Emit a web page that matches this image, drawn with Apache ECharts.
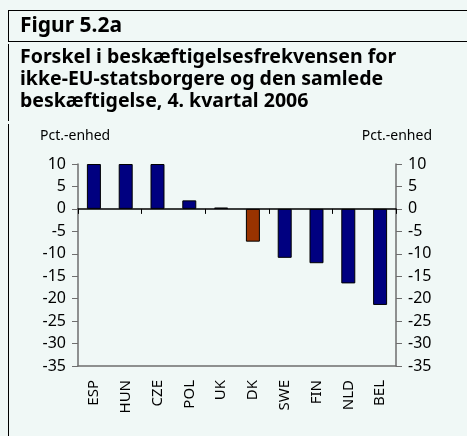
<!DOCTYPE html>
<html>
<head>
<meta charset="utf-8">
<script src="https://cdn.jsdelivr.net/npm/echarts@6/dist/echarts.min.js"></script>
<style>
  html, body { margin: 0; padding: 0; background: #f0f8f6; }
  #chart { width: 467px; height: 436px; }
</style>
</head>
<body>
<div id="chart"></div>
<script>
// lande og forskel i pct.-enheder
const countries = ['ESP', 'HUN', 'CZE', 'POL', 'UK', 'DK', 'SWE', 'FIN', 'NLD', 'BEL'];
const diffs = [10, 10, 10, 1.9, 0.3, -7.3, -10.9, -12.1, -16.6, -21.4];
const highlight = 'DK';
const yTicks = [10, 5, 0, -5, -10, -15, -20, -25, -30, -35];

const font = '"Noto Sans", "DejaVu Sans", sans-serif';
const navy = '#000080';
const brown = '#993300';

const barData = countries.map((c, i) => ({
    value: diffs[i],
    itemStyle: { color: c === highlight ? brown : navy }
}));

const yAxisBase = {
    type: 'value',
    min: yTicks[yTicks.length - 1],
    max: yTicks[0],
    interval: 5,
    splitLine: { show: false },
    axisLine: { show: true, lineStyle: { color: '#6e6e6e', width: 1.5 } },
    axisTick: { show: true, length: 6, lineStyle: { color: '#6e6e6e' } },
    axisLabel: { color: '#000', fontSize: 16, fontFamily: font, margin: 12 }
};

const option = {
    backgroundColor: '#f0f8f6',
    animation: false,
    title: [
        { text: 'Figur 5.2a', left: 20, top: 16, padding: 0,
          textStyle: { fontFamily: font, fontWeight: 'bold', fontSize: 21, color: '#000' } },
        { text: 'Forskel i beskæftigelsesfrekvensen for\nikke-EU-statsborgere og den samlede\nbeskæftigelse, 4. kvartal 2006',
          left: 20, top: 46, padding: 0,
          textStyle: { fontFamily: font, fontWeight: 'bold', fontSize: 19.5, lineHeight: 22, color: '#000' } }
    ],
    graphic: [
        { type: 'line', shape: { x1: 8, y1: 10.5, x2: 467, y2: 10.5 }, style: { stroke: '#000', lineWidth: 1 } },
        { type: 'line', shape: { x1: 8, y1: 41.5, x2: 467, y2: 41.5 }, style: { stroke: '#000', lineWidth: 1 } },
        { type: 'line', shape: { x1: 8.5, y1: 10, x2: 8.5, y2: 41 }, style: { stroke: '#000', lineWidth: 1 } },
        { type: 'line', shape: { x1: 8.5, y1: 44, x2: 8.5, y2: 121 }, style: { stroke: '#000', lineWidth: 1 } },
        { type: 'line', shape: { x1: 8.5, y1: 124, x2: 8.5, y2: 436 }, style: { stroke: '#000', lineWidth: 1 } },
        { type: 'text', left: 40, top: 129,
          style: { text: 'Pct.-enhed', font: '14px ' + font, fill: '#000' } },
        { type: 'text', right: 35, top: 129,
          style: { text: 'Pct.-enhed', font: '14px ' + font, fill: '#000' } }
    ],
    grid: { left: 78, right: 71, top: 164, bottom: 70, containLabel: false },
    xAxis: [
        {
            type: 'category',
            data: countries,
            axisLine: { onZero: true, lineStyle: { color: '#000', width: 1.5 } },
            axisTick: { show: true, length: 5, lineStyle: { color: '#000' } },
            axisLabel: { show: false }
        },
        {
            type: 'category',
            data: countries,
            position: 'bottom',
            axisLine: { onZero: false, show: true, lineStyle: { color: '#6e6e6e', width: 1.5 } },
            axisTick: { show: false },
            axisLabel: { rotate: 90, color: '#000', fontSize: 15, fontFamily: font, margin: 14 }
        }
    ],
    yAxis: [
        Object.assign({}, yAxisBase, { position: 'left' }),
        Object.assign({}, yAxisBase, { position: 'right' })
    ],
    series: [{
        type: 'bar',
        xAxisIndex: 0,
        yAxisIndex: 0,
        data: barData,
        barWidth: '44%',
        itemStyle: { borderColor: '#000', borderWidth: 1 }
    }]
};

const myChart = echarts.init(document.getElementById('chart'));
myChart.setOption(option);
</script>
</body>
</html>
